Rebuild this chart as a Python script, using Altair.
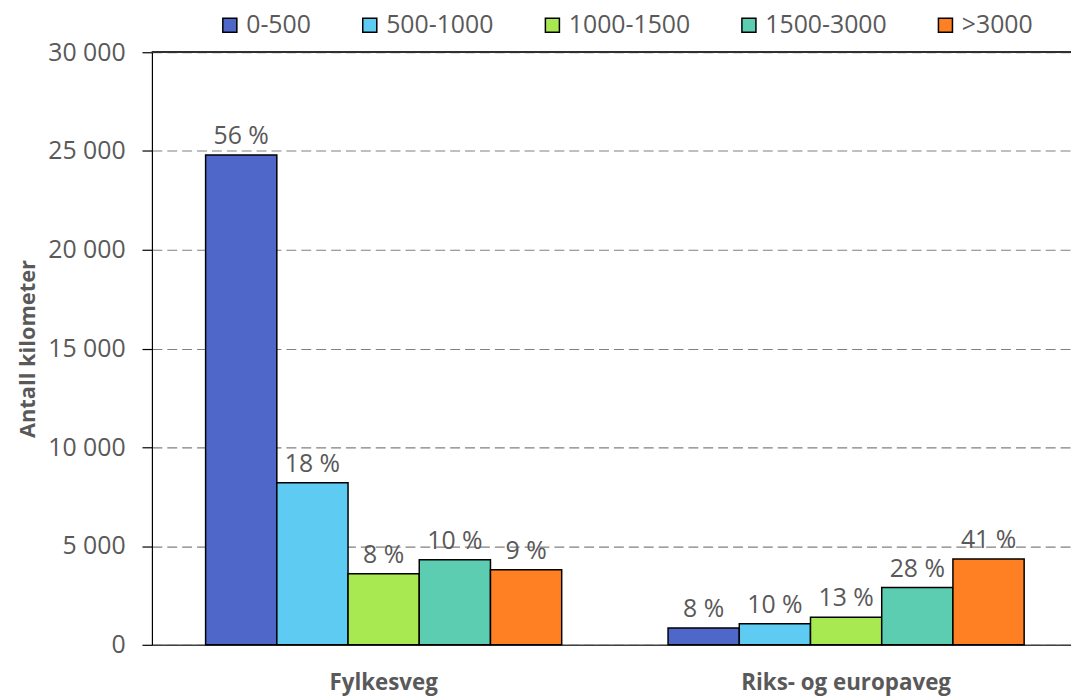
import altair as alt
import pandas as pd

categories = ["Fylkesveg", "Riks- og europaveg"]
groups = ["0-500", "500-1000", "1000-1500", "1500-3000", ">3000"]
fylkesveg = [24800, 8200, 3600, 4300, 3800]
riks = [850, 1070, 1400, 2900, 4340]
fylkesveg_pct = ["56 %", "18 %", "8 %", "10 %", "9 %"]
riks_pct = ["8 %", "10 %", "13 %", "28 %", "41 %"]
colors = ["#4F67C9", "#5DCBF2", "#A8E952", "#5CCDB0", "#FF8022"]

rows = []
for cat, vals, pcts in [(categories[0], fylkesveg, fylkesveg_pct), (categories[1], riks, riks_pct)]:
    for g, v, p in zip(groups, vals, pcts):
        rows.append({"Vegtype": cat, "ÅDT": g, "km": v, "pct": p})
df = pd.DataFrame(rows)

FONT = "Open Sans"
GREY = "#595959"

x_enc = alt.X("Vegtype:N", sort=categories, title=None,
              scale=alt.Scale(paddingInner=0.23, paddingOuter=0.1087, align=0.534),
              axis=alt.Axis(labelAngle=0, labelFontWeight="bold", labelFontSize=22.5,
                            labelColor=GREY, labelFont=FONT, labelPadding=27, labelLimit=0,
                            ticks=False, domainColor="#404040", domainWidth=1.5))
xoff = alt.XOffset("ÅDT:N", sort=groups)

y_enc = alt.Y("km:Q", title="Antall kilometer",
              scale=alt.Scale(domain=[0, 30000]),
              axis=alt.Axis(values=[0, 5000, 10000, 15000, 20000, 25000, 30000],
                            labelExpr="replace(format(datum.value, ','), ',', ' ')",
                            labelFontSize=25, labelColor=GREY, labelFont=FONT,
                            labelPadding=17, ticks=True, tickSize=10, tickColor="black",
                            tickWidth=1.2,
                            grid=True, gridDash=[10, 5], gridColor="#808080", gridWidth=1.2,
                            domainColor="black", domainWidth=1.2,
                            titleFontSize=22, titleFontWeight="bold", titleColor=GREY,
                            titleFont=FONT, titlePadding=8))

bars = alt.Chart(df).mark_bar(stroke="black", strokeWidth=1.5).encode(
    x=x_enc,
    xOffset=xoff,
    y=y_enc,
    color=alt.Color("ÅDT:N", sort=groups,
                    scale=alt.Scale(domain=groups, range=colors),
                    legend=alt.Legend(title=None, orient="none", direction="horizontal",
                                      legendX=66, legendY=-40,
                                      symbolType="square", symbolSize=200,
                                      symbolStrokeColor="black", symbolStrokeWidth=1.5,
                                      labelFontSize=25, labelColor=GREY, labelFont=FONT,
                                      labelOffset=4, columnPadding=46)),
)

top_line = alt.Chart(df).mark_rule(color="#303030", strokeWidth=1.5).encode(
    y=alt.datum(30000)
)

labels = alt.Chart(df).mark_text(fontSize=25, font=FONT, color=GREY, baseline="bottom", dy=-6).encode(
    x=alt.X("Vegtype:N", sort=categories),
    xOffset=xoff,
    y="km:Q",
    text="pct:N",
)

chart = alt.layer(bars, top_line, labels).properties(
    width=926, height=597,
    autosize=alt.AutoSizeParams(type="none"),
    padding={"left": 145, "top": 42, "right": 0, "bottom": 50},
).configure_view(stroke=None).configure_axisX(grid=False)

chart.save("out.html", embed_options={"renderer": "svg", "actions": False})
